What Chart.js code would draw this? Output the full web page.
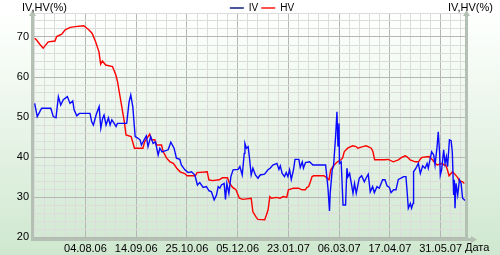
<!DOCTYPE html>
<html>
<head>
<meta charset="utf-8">
<script src="https://cdn.jsdelivr.net/npm/chart.js@4/dist/chart.umd.min.js"></script>
<style>
  html, body { margin: 0; padding: 0; background: #fff; }
  #wrap { width: 500px; height: 255px; }
</style>
</head>
<body>
<div id="wrap"><canvas id="iv-hv-chart" width="500" height="255"></canvas></div>
<script>
// trading-day index of each labelled date
const labelDays = [30, 60, 90, 120, 150, 180, 210, 240];
const tickLabels = ["04.08.06", "14.09.06", "25.10.06", "05.12.06", "23.01.07", "06.03.07", "17.04.07", "31.05.07"];

// [trading day, %]
const ivPoints = [
  [0, 53.4], [1.5, 50.1], [4.1, 52.2], [9.5, 52.2], [11, 50.1], [12.6, 49.8], [14, 55.1], [15.4, 53],
  [16.9, 54.3], [19.3, 55.1], [20.9, 53.4], [22.5, 54], [23.3, 51.8], [24.9, 50.3], [26.4, 50.9], [32.7, 50.9],
  [33.7, 48.8], [34.7, 48], [36.3, 50.5], [38.1, 52.6], [39.1, 47.2], [40.2, 49.7], [41, 50.5], [42.2, 48],
  [43.6, 49.8], [44.6, 48], [45.6, 49.3], [46.5, 48.7], [48.1, 47.6], [48.9, 48.4], [54.4, 48.4], [55.8, 53.8],
  [56.8, 55.5], [58, 52.6], [59.4, 45.1], [60.7, 44.8], [62.3, 44.3], [63.1, 43], [64.7, 44.3], [66, 45.3],
  [67, 42.6], [68.6, 45.1], [70, 43.4], [71.4, 43.8], [73, 40.5], [74, 42.2], [75.3, 41.3], [78.9, 41.8],
  [80.5, 43.7], [82.4, 42.2], [83.8, 39.7], [85.8, 39.4], [86.7, 38], [88.8, 36.8], [90.7, 36.1], [92.7, 36.3],
  [94.7, 35.5], [96.2, 33], [97.6, 33.6], [99.6, 32.4], [101.5, 32.6], [103, 31.6], [104.5, 31.3], [106.1, 29.3],
  [107.5, 30.5], [108.5, 32.6], [109.5, 32.2], [110.4, 33], [112, 33.4], [112.8, 29.4], [113.6, 33.4], [114.8, 30.9],
  [116, 35.1], [117.3, 36.8], [120.3, 36.9], [121.3, 37.6], [122.7, 35.5], [123.9, 40.9], [124.3, 43.4], [125.2, 42.2],
  [126.2, 42.6], [127, 39.7], [128, 35.5], [129, 37.2], [130.5, 35.5], [132, 34.7], [133.3, 35.5], [135.9, 35.7],
  [137.9, 36.8], [139.2, 37.2], [140.8, 38], [143.2, 38.4], [144.4, 36.9], [145.2, 37.8], [146.3, 35.9], [147.7, 35.1],
  [148.7, 36.1], [149.7, 35.1], [150.7, 36.8], [151.7, 34.4], [153, 36.8], [153.9, 39.4], [156.2, 39.4], [157, 37.4],
  [158.2, 38.8], [158.9, 37.2], [160.1, 38.6], [162.5, 38.8], [164.5, 38], [172, 38], [173.4, 32.2], [174.3, 26.5],
  [174.7, 30.9], [175.9, 36.8], [176.7, 37.8], [177.9, 45.1], [178.7, 51.3], [179.3, 42.6], [179.9, 48.4], [180.2, 38.4],
  [181.2, 38.8], [182.3, 28], [183.8, 28], [184.6, 37.2], [185.2, 35.1], [186.2, 35.9], [187.2, 33.4], [188.2, 30.9],
  [189.1, 33.4], [190.1, 30.9], [191.9, 34.7], [193.3, 35.3], [194.9, 33.8], [195.9, 34.7], [197.2, 35.7], [198.4, 31.3],
  [199.8, 32.6], [200.8, 31.1], [202.4, 32.6], [203.7, 32.2], [205.7, 34.3], [207.1, 34.3], [208.3, 32.8], [209.7, 32.4],
  [210.7, 31.1], [212.2, 31.8], [213.6, 31.8], [215, 34.4], [216.6, 34.7], [218.1, 35.1], [219.5, 35.1], [220.1, 31.8],
  [220.9, 27.2], [222.1, 28.4], [222.8, 27.2], [223.7, 28.4], [224, 36.3], [225.4, 37.2], [226.8, 38.4], [228, 35.9],
  [229.4, 37.8], [230.8, 37.2], [232, 38.4], [232.7, 37.2], [233.9, 39.7], [234.7, 41.3], [235.9, 40.5], [236.7, 38],
  [237.9, 42.6], [238.6, 46.3], [239.4, 40.9], [239.8, 35.5], [240.6, 36.8], [241.8, 41.8], [242.6, 38.4], [243.4, 40.1],
  [244.1, 37.6], [245.2, 44.3], [246.2, 44.1], [246.9, 41.3], [247.7, 30.5], [248.1, 34.3], [248.5, 27.2], [249.1, 33.4],
  [250.1, 30.5], [251.1, 34.3], [252.1, 33.4], [253, 29.7], [254.4, 29.1]
];

const hvPoints = [
  [0, 69.7], [1, 69.3], [3, 68.2], [5, 67.2], [8, 68.8], [12, 69], [13, 70.1], [16, 70.7],
  [18, 71.8], [21, 72.4], [24, 72.6], [29, 72.8], [32, 71.8], [34, 70.9], [36, 68.8], [38, 66.3],
  [39, 63.2], [40, 64], [42, 63], [46, 62.6], [48, 60.5], [49, 58.8], [50, 56.3], [51, 53.8],
  [53, 48.8], [54, 45.5], [57, 45.1], [59, 42.2], [64, 42.2], [65, 43.8], [68, 45.7], [69, 44.3],
  [71, 44.3], [72, 43], [75, 43], [76, 41.3], [78, 39.7], [80, 38.8], [82, 38.4], [84, 37.2],
  [86, 36.3], [89, 35.8], [90, 35.3], [95, 35.3], [96, 36.1], [102, 36.3], [103, 34.3], [105, 34.1],
  [109, 34.3], [111, 34.8], [114, 34.8], [115, 33.6], [117, 32.4], [119, 31.8], [121, 29.7], [123, 29.4],
  [128, 29.7], [129, 26.3], [131, 24.9], [132, 24.4], [136, 24.3], [137, 25.5], [138, 26.8], [139, 30.1],
  [140, 29.7], [143, 29.9], [145, 29.7], [147, 30.1], [149, 29.9], [150, 31.8], [153, 32.2], [156, 32.2],
  [158, 31.8], [160, 31.8], [161, 32.4], [162, 32.6], [163, 33.8], [164, 35.1], [165, 35.3], [171, 35.3],
  [173, 34.7], [174, 34.3], [175, 36.8], [177, 38], [179, 38.8], [181, 39.3], [182, 39.7], [183, 41.3],
  [185, 42.2], [188, 42.8], [190, 42.6], [191, 42.2], [194, 42.6], [196, 42.8], [199, 42.2], [200, 41.3],
  [201, 39.3], [207, 39.3], [209, 39.4], [212, 38.8], [215, 39.3], [217, 39.9], [219, 40.3], [220, 40.1],
  [222, 39.3], [225, 38.8], [227, 38.8], [228, 39.5], [229, 39.9], [233, 40.1], [235, 39.4], [236, 38.8],
  [238, 38], [241, 38.4], [242, 38], [243, 38], [244, 36.8], [245, 35.3], [247, 36.3], [248, 35.9],
  [250, 34.9], [251, 34.1], [253, 33.8], [254, 33.4]
];

const FONT = "Arial, 'Liberation Sans', sans-serif";
const AXIS = "#b3c0b3";

const decor = {
  id: "decor",
  beforeDraw(chart) {
    const { ctx, width, height } = chart;
    ctx.save();
    const g = ctx.createLinearGradient(0, 0, 0, height);
    g.addColorStop(0, "#ffffff");
    g.addColorStop(0.08, "#fdfffd");
    g.addColorStop(1, "#cfe7cf");
    ctx.fillStyle = g;
    ctx.fillRect(0, 0, width, height);
    ctx.restore();
  },
  afterDraw(chart) {
    const { ctx, chartArea: a } = chart;
    ctx.save();
    ctx.fillStyle = AXIS;
    // left, right and bottom axis bars
    ctx.fillRect(a.left - 2, a.top, 3, a.bottom - a.top + 3);
    ctx.fillRect(a.right - 1, a.top, 3, a.bottom - a.top + 3);
    ctx.fillRect(a.left - 2, a.bottom + 1, a.right - a.left + 8, 3);
    const arrowUp = (x) => {
      ctx.beginPath();
      ctx.moveTo(x, a.top - 3);
      ctx.lineTo(x - 3.5, a.top + 3);
      ctx.lineTo(x + 3.5, a.top + 3);
      ctx.closePath();
      ctx.fill();
    };
    arrowUp(a.left - 0.5);
    arrowUp(a.right + 0.5);
    ctx.beginPath();
    ctx.moveTo(a.right + 11, a.bottom + 2.5);
    ctx.lineTo(a.right + 5, a.bottom - 1);
    ctx.lineTo(a.right + 5, a.bottom + 6);
    ctx.closePath();
    ctx.fill();

    ctx.fillStyle = "#000";
    ctx.font = "11px " + FONT;
    ctx.textBaseline = "middle";
    ctx.textAlign = "left";
    ctx.fillText("IV,HV(%)", 22, 8);
    ctx.fillText("IV,HV(%)", 448, 8);
    ctx.fillText("Дата", 465, 248);
    ctx.restore();
  }
};

const gridColor = (ctx, every) =>
  ctx.tick && ctx.tick.value > 0 && ctx.tick.value % every === 0 ? "#b6b6b6" : "#dcdcdc";

new Chart(document.getElementById("iv-hv-chart"), {
  type: "line",
  data: {
    datasets: [
      {
        label: "IV",
        data: ivPoints.map(([x, y]) => ({ x, y })),
        borderColor: "#0a0aff",
        borderWidth: 1.4,
        pointRadius: 0,
        tension: 0,
      },
      {
        label: "HV",
        data: hvPoints.map(([x, y]) => ({ x, y })),
        borderColor: "#ff0000",
        borderWidth: 1.4,
        pointRadius: 0,
        tension: 0,
      },
    ],
  },
  options: {
    responsive: false,
    animation: false,
    events: [],
    // the negative right padding only widens the legend strip so its centre sits where the original has it
    layout: { padding: { left: 0, right: -24, top: 0, bottom: 0 } },
    plugins: {
      tooltip: { enabled: false },
      legend: {
        position: "top",
        maxHeight: 13,
        labels: {
          boxWidth: 14,
          boxHeight: 2,
          padding: 3,
          color: "#000",
          font: { size: 10, family: FONT },
          generateLabels: () => [
            { text: "IV", fillStyle: "#4b559b", strokeStyle: "#4b559b", lineWidth: 0, hidden: false, datasetIndex: 0 },
            { text: "HV", fillStyle: "#ff5050", strokeStyle: "#ff5050", lineWidth: 0, hidden: false, datasetIndex: 1 },
          ],
        },
      },
    },
    scales: {
      x: {
        type: "linear",
        min: -1,
        max: 255,
        afterBuildTicks: (s) => {
          const t = [];
          for (let v = 0; v <= 252; v += 6) t.push({ value: v });
          s.ticks = t;
        },
        afterFit: (s) => { s.height = 18; },
        border: { display: false },
        grid: { color: (c) => gridColor(c, 30), drawTicks: false, lineWidth: 1 },
        ticks: {
          autoSkip: false,
          maxRotation: 0,
          minRotation: 0,
          padding: 5,
          color: "#000",
          font: { size: 11, family: FONT },
          callback: (v) => {
            const i = labelDays.indexOf(v);
            return i >= 0 ? tickLabels[i] : "";
          },
        },
      },
      y: {
        min: 20,
        max: 76,
        afterFit: (s) => { s.width = 33; },
        border: { display: false },
        grid: { color: (c) => gridColor(c, 10), drawTicks: false, lineWidth: 1 },
        ticks: {
          stepSize: 2,
          autoSkip: false,
          padding: 4,
          color: "#000",
          font: { size: 11, family: FONT },
          callback: (v) => (v % 10 === 0 ? String(v) : ""),
        },
      },
      y2: {
        position: "right",
        afterFit: (s) => { s.width = 58; },
        border: { display: false },
        grid: { display: false },
        ticks: { display: false },
      },
    },
  },
  plugins: [decor],
});
</script>
</body>
</html>
